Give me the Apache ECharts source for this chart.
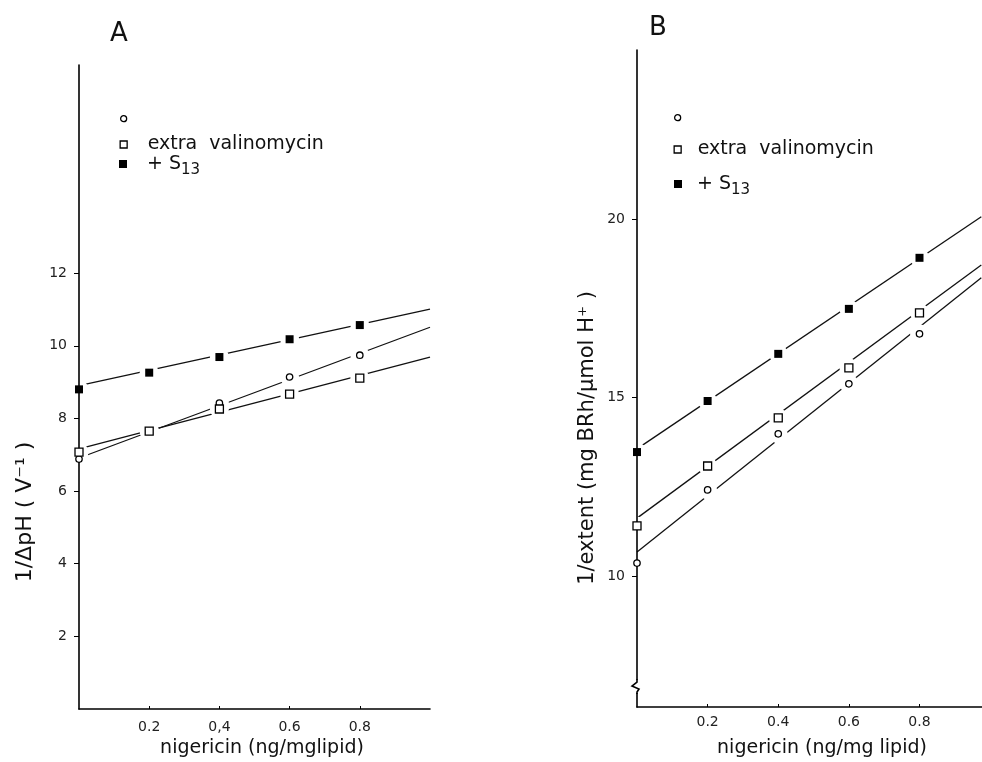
<!DOCTYPE html>
<html><head><meta charset="utf-8">
<script src="https://cdn.jsdelivr.net/npm/echarts@6.0.0/dist/echarts.min.js"></script>
<style>html,body{margin:0;padding:0;background:#fff}#c{width:982px;height:762px}</style>
</head><body><div id="c"></div>
<script>
// ---------- data ----------
const xValues = [0, 0.2, 0.4, 0.6, 0.8];           // nigericin (ng/mg lipid)
// Panel A : 1/ΔpH (V^-1)
const circleA = [6.88, 7.65, 8.42, 9.14, 9.74];
const squareA = [7.07, 7.65, 8.26, 8.67, 9.11];
const filledA = [8.80, 9.26, 9.69, 10.18, 10.57];
const fitXA = [0, 1.0];
const fitCircleA = [6.91, 10.51];
const fitSquareA = [7.16, 9.69];
const fitFilledA = [8.90, 11.01];
// Panel B : 1/extent (mg BRh/µmol H+)
const circleB = [10.36, 12.41, 13.98, 15.38, 16.78];
const squareB = [11.40, 13.08, 14.43, 15.83, 17.37];
const filledB = [13.47, 14.90, 16.22, 17.48, 18.91];
const fitXB = [0, 0.975];
const fitCircleB = [10.67, 18.35];
const fitSquareB = [11.62, 18.71];
const fitFilledB = [13.56, 20.06];
// ticks
const xTickValues = [0.2, 0.4, 0.6, 0.8];
const xTickLabelsA = ['0.2', '0,4', '0.6', '0.8'];
const xTickLabelsB = ['0.2', '0.4', '0.6', '0.8'];
const yTicksA = [2, 4, 6, 8, 10, 12];
const yTicksB = [10, 15, 20];
const seriesNames = ['control', 'extra valinomycin', '+S13'];

// ---------- styling ----------
const FONT = 'DejaVu Sans';
const INK = '#111';
const openStyle = {color: '#fff', borderColor: '#000', borderWidth: 1.3, opacity: 1};
const filledStyle = {color: '#000', borderColor: '#000', borderWidth: 0, opacity: 1};

const chart = echarts.init(document.getElementById('c'), null, {renderer: 'canvas'});

function lookupLabel(ticks, labels) {
  return v => { for (let i = 0; i < ticks.length; i++) if (Math.abs(ticks[i] - v) < 1e-6) return labels[i]; return ''; };
}

function xAxisFor(gi, max, labels, margin) {
  return {
    type: 'value', gridIndex: gi, min: 0, max: max, zlevel: 1, z: 1,
    axisLine: {show: true, lineStyle: {color: '#000', width: 1.6}},
    axisTick: {show: true, inside: true, length: 3, customValues: xTickValues, lineStyle: {color: '#000'}},
    axisLabel: {show: true, customValues: xTickValues, formatter: lookupLabel(xTickValues, labels),
      margin: margin, fontFamily: FONT, fontSize: 14, color: '#222'},
    splitLine: {show: false}
  };
}
function yAxisFor(gi, min, max, ticks) {
  return {
    type: 'value', gridIndex: gi, min: min, max: max, zlevel: 1, z: 1,
    axisLine: {show: true, lineStyle: {color: '#000', width: 1.6}},
    axisTick: {show: true, length: 5, customValues: ticks, lineStyle: {color: '#000'}},
    axisLabel: {show: true, customValues: ticks, margin: 12, fontFamily: FONT, fontSize: 14, color: '#222'},
    splitLine: {show: false}
  };
}

// kind: 0 = fitted line, 1 = open circle, 2 = open square, 3 = filled square
// layer 'under': fitted lines + white halos (gaps in the lines around the points); layer 'over': the markers
function makeRenderItem(layer) {
  return function (params, api) {
    const kind = api.value(4);
    const p1 = api.coord([api.value(0), api.value(1)]);
    if (kind === 0) {
      if (layer !== 'under') return null;
      const p2 = api.coord([api.value(2), api.value(3)]);
      return {type: 'line', shape: {x1: p1[0], y1: p1[1], x2: p2[0], y2: p2[1]},
              style: {stroke: INK, lineWidth: 1.3}, z2: 1};
    }
    const cx = p1[0], cy = p1[1];
    if (layer === 'under') {
      return {type: 'circle', shape: {cx: cx, cy: cy, r: 9.5}, style: {fill: '#fff'}, z2: 5};
    }
    if (kind === 1) {
      return {type: 'circle', shape: {cx: cx, cy: cy, r: 3.2}, style: {fill: '#fff', stroke: '#000', lineWidth: 1.3}, z2: 20};
    } else if (kind === 2) {
      return {type: 'rect', shape: {x: cx - 4, y: cy - 4, width: 8, height: 8}, style: {fill: '#fff', stroke: '#000', lineWidth: 1.3}, z2: 20};
    }
    return {type: 'rect', shape: {x: cx - 4, y: cy - 4, width: 8, height: 8}, style: {fill: '#000'}, z2: 20};
  };
}

function panelSeries(gi, circle, square, filled, fitX, fitC, fitS, fitF) {
  const items = [];
  [fitC, fitS, fitF].forEach(f => items.push([fitX[0], f[0], fitX[1], f[1], 0]));
  [circle, square, filled].forEach((arr, k) => xValues.forEach((x, i) => items.push([x, arr[i], x, arr[i], k + 1])));
  const base = {xAxisIndex: gi, yAxisIndex: gi, animation: false, silent: true};
  const under = Object.assign({
    type: 'custom', name: 'lines' + gi, data: items, renderItem: makeRenderItem('under'),
    encode: {x: [0, 2], y: [1, 3]}, clip: false, zlevel: 0, z: 2
  }, base);
  const over = Object.assign({
    type: 'custom', name: 'points' + gi, data: items, renderItem: makeRenderItem('over'),
    encode: {x: [0, 2], y: [1, 3]}, clip: false, zlevel: 2, z: 2
  }, base);
  // empty series that only carry the legend entries
  const legendCarriers = seriesNames.map((n, k) => Object.assign({
    type: 'scatter', name: n, data: [], symbol: k === 0 ? 'circle' : 'rect',
    itemStyle: k === 2 ? filledStyle : openStyle
  }, base));
  return [under, over].concat(legendCarriers);
}

// legend rows: item heights differ (empty text / plain text / text with subscript)
const rowHalfHeight = [3, 9, 8.5];
function legendRow(idx, iconX, yc, size, textX) {
  const name = seriesNames[idx];
  const icon = idx === 0 ? 'circle' : 'rect';
  const style = idx === 2 ? filledStyle : openStyle;
  const left = iconX - size / 2 - 5;
  return {
    data: [{name: name, icon: icon, itemStyle: style}],
    left: left, top: yc - rowHalfHeight[idx] - 5, itemWidth: size, itemHeight: size,
    selectedMode: false, orient: 'vertical',
    formatter: n => n === seriesNames[0] ? '' : (n === seriesNames[2] ? '{t|+ S}{s|13}' : '{t|extra  valinomycin}'),
    textStyle: {
      fontFamily: FONT, color: INK, fontSize: 19,
      padding: [0, 0, 0, textX - (iconX - size / 2) - size - 5],
      rich: {t: {fontFamily: FONT, fontSize: 19, color: INK},
             s: {fontFamily: FONT, fontSize: 15, color: INK, padding: [12, 0, 0, 0]}}
    }
  };
}

const legends = [
  legendRow(0, 123, 118, 6, 147), legendRow(1, 123, 144, 7, 147), legendRow(2, 123, 163, 8, 147),
  legendRow(0, 677, 117, 6, 697), legendRow(1, 677, 149, 7, 697), legendRow(2, 678, 183, 8, 697)
];

function baseGraphics() {
  const t = (txt, x, y, size, rot) => ({
    type: 'text', x: x, y: y, rotation: rot || 0, zlevel: 3, z: 100,
    style: {text: txt, fontFamily: FONT, fontSize: size, fill: INK, align: 'center', verticalAlign: 'middle',
            textAlign: 'center', textVerticalAlign: 'middle'}
  });
  return [
    t('A', 119, 34, 26), t('B', 658, 28, 26),
    t('nigericin (ng/mglipid)', 262, 748, 19),
    t('nigericin (ng/mg lipid)', 822, 748, 19),
    t('1/ΔpH ( V⁻¹ )', 25, 512, 22, Math.PI / 2),
    t('1/extent (mg BRh/μmol H⁺ )', 588, 438, 21, Math.PI / 2)
  ];
}

const option = {
  backgroundColor: '#fff',
  animation: false,
  grid: [
    {left: 79, top: 65, width: 351, height: 644},
    {left: 637, top: 50, width: 345, height: 657}
  ],
  xAxis: [xAxisFor(0, 1.0, xTickLabelsA, 11), xAxisFor(1, 0.977, xTickLabelsB, 8)],
  yAxis: [yAxisFor(0, 0, 17.73, yTicksA), yAxisFor(1, 6.33, 24.73, yTicksB)],
  legend: legends,
  series: panelSeries(0, circleA, squareA, filledA, fitXA, fitCircleA, fitSquareA, fitFilledA)
    .concat(panelSeries(1, circleB, squareB, filledB, fitXB, fitCircleB, fitSquareB, fitFilledB)),
  graphic: baseGraphics()
};
chart.setOption(option);

// axis break mark on panel B's y axis
const breakValue = 6.89;
const p = chart.convertToPixel({gridIndex: 1}, [0, breakValue]);
const g = baseGraphics();
g.push({type: 'rect', shape: {x: p[0] - 3, y: p[1] - 7, width: 6, height: 13}, style: {fill: '#fff'}, zlevel: 3, z: 100});
g.push({type: 'polyline', shape: {points: [[p[0], p[1] - 8], [p[0], p[1] - 5], [p[0] - 5, p[1] - 1], [p[0] + 2, p[1] + 2], [p[0], p[1] + 5], [p[0], p[1] + 7]]},
        style: {stroke: '#000', lineWidth: 1.6, fill: null}, zlevel: 3, z: 101});
chart.setOption({graphic: g});
</script>
</body></html>
